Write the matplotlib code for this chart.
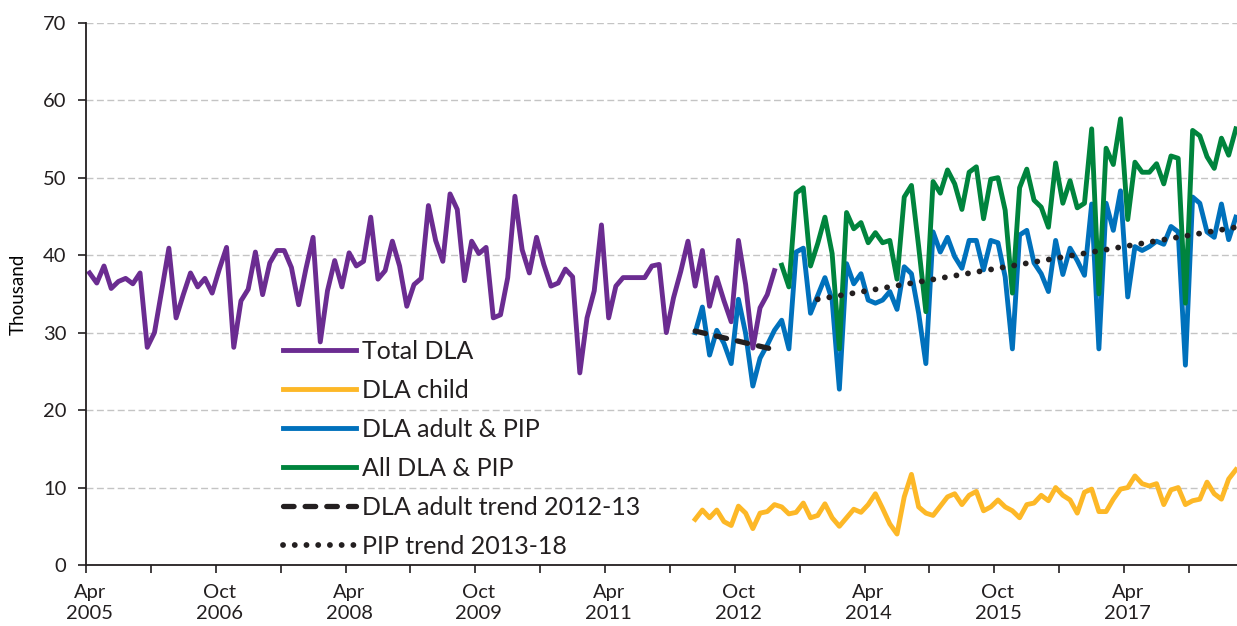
import numpy as np
import matplotlib.pyplot as plt

plt.rcParams['font.family'] = ['Lato', 'DejaVu Sans']
plt.rcParams['text.color'] = '#231F20'
plt.rcParams['axes.edgecolor'] = '#231F20'
plt.rcParams['xtick.color'] = '#231F20'
plt.rcParams['ytick.color'] = '#231F20'

# monthly series, position 0 = Apr 2005 (thousands)
dla_total = [37.7, 36.4, 38.6, 35.7, 36.6, 37.0, 36.3, 37.7, 28.1, 30.0,
             35.4, 40.9, 31.9, 34.9, 37.7, 35.9, 37.0, 35.1, 38.2, 41.0,
             28.1, 34.1, 35.6, 40.4, 34.9, 39.0, 40.6, 40.6, 38.4, 33.6,
             38.2, 42.3, 28.8, 35.4, 39.3, 35.9, 40.3, 38.6, 39.2, 44.9,
             36.9, 38.0, 41.8, 38.6, 33.4, 36.2, 37.0, 46.4, 41.9, 39.2,
             47.9, 45.9, 36.7, 41.8, 40.2, 41.0, 31.9, 32.3, 37.1, 47.6,
             40.7, 37.7, 42.3, 38.8, 36.0, 36.4, 38.2, 37.2, 24.8, 31.9,
             35.4, 43.9, 31.9, 36.0, 37.1, 37.1, 37.1, 37.1, 38.6, 38.8,
             30.0, 34.5, 37.9, 41.8, 36.0, 40.6, 33.4, 37.1, 34.1, 31.4,
             41.9, 36.2, 28.0, 33.2, 34.9, 38.0]
dla_total_start = 0

dla_child = [5.9, 7.1, 6.1, 7.1, 5.6, 5.1, 7.6, 6.7, 4.7, 6.7,
             6.9, 7.8, 7.5, 6.6, 6.8, 8.0, 6.1, 6.4, 7.9, 6.1,
             5.0, 6.1, 7.2, 6.8, 7.8, 9.2, 7.3, 5.3, 4.0, 8.8,
             11.7, 7.5, 6.7, 6.4, 7.6, 8.8, 9.2, 7.8, 9.0, 9.5,
             7.0, 7.5, 8.4, 7.5, 7.0, 6.1, 7.8, 8.0, 9.0, 8.3,
             10.0, 9.0, 8.4, 6.7, 9.4, 9.8, 6.9, 6.9, 8.5, 9.8,
             10.0, 11.5, 10.5, 10.2, 10.5, 7.8, 9.7, 10.0, 7.8, 8.3,
             8.5, 10.7, 9.2, 8.5, 11.1, 12.3]
dla_child_start = 84

dla_adult_pip = [30.0, 33.3, 27.1, 30.3, 28.6, 26.0, 34.3, 29.9, 23.1, 26.7,
                 28.4, 30.3, 31.6, 27.9, 40.4, 40.9, 32.5, 34.8, 37.1, 34.2,
                 22.7, 38.9, 36.3, 37.6, 34.2, 33.8, 34.2, 35.3, 33.0, 38.5,
                 37.6, 32.5, 26.0, 43.0, 40.4, 42.3, 39.8, 38.3, 41.9, 41.9,
                 38.1, 41.9, 41.6, 37.2, 27.9, 42.6, 43.2, 39.0, 37.6, 35.3,
                 41.9, 37.5, 40.9, 39.3, 37.4, 46.6, 27.9, 46.7, 43.2, 48.3,
                 34.6, 41.1, 40.6, 41.1, 41.8, 41.4, 43.7, 43.0, 25.8, 47.5,
                 46.7, 43.0, 42.3, 46.6, 42.0, 44.9]
dla_adult_pip_start = 84

all_dla_pip = [38.7, 35.9, 48.0, 48.7, 38.6, 41.5, 44.9, 40.2, 27.9, 45.5,
               43.4, 44.2, 41.6, 42.9, 41.6, 41.9, 36.9, 47.5, 49.0, 41.1,
               32.7, 49.5, 48.0, 51.0, 49.2, 45.9, 50.7, 51.4, 44.7, 49.8,
               50.0, 45.8, 35.1, 48.7, 51.1, 47.1, 46.2, 43.6, 51.9, 46.7,
               49.6, 46.1, 46.7, 56.3, 35.0, 53.8, 51.7, 57.6, 44.6, 52.0,
               50.7, 50.7, 51.8, 49.2, 52.8, 52.5, 33.8, 56.1, 55.4, 52.7,
               51.2, 55.1, 52.9, 56.3]
all_dla_pip_start = 96

dla_trend_x = [84, 95]
dla_trend_y = [30.2, 27.8]
pip_trend_x = [101, 159]
pip_trend_y = [34.3, 43.6]

tick_labels = ['Apr\n2005', 'Oct\n2006', 'Apr\n2008', 'Oct\n2009', 'Apr\n2011',
               'Oct\n2012', 'Apr\n2014', 'Oct\n2015', 'Apr\n2017']

fig = plt.figure(figsize=(12.37, 6.26), dpi=100)
ax = fig.add_axes([0.0695, 0.0974, 0.9325, 0.8663])

def xs(start, vals):
    return np.arange(start, start + len(vals))

lw = 3.5
ax.plot(xs(dla_total_start, dla_total), dla_total, color='#6B2C91', lw=lw,
        label='Total DLA')
ax.plot(xs(dla_child_start, dla_child), dla_child, color='#FDB827', lw=lw,
        label='DLA child')
ax.plot(xs(dla_adult_pip_start, dla_adult_pip), dla_adult_pip, color='#0071BC',
        lw=lw, label='DLA adult & PIP')
ax.plot(xs(all_dla_pip_start, all_dla_pip), all_dla_pip, color='#00843D', lw=lw,
        label='All DLA & PIP')
ax.plot(dla_trend_x, dla_trend_y, color='#231F20', lw=3.8, linestyle=(0, (2, 2.1)),
        dash_capstyle='round', label='DLA adult trend 2012-13')
ax.plot(pip_trend_x, pip_trend_y, color='#231F20', lw=4.2, linestyle=(0, (0.01, 2.0)),
        dash_capstyle='round', label='PIP trend 2013-18')

ax.set_xlim(-0.5, 159.5)
ax.set_ylim(0, 70)
ax.set_yticks(np.arange(0, 71, 10))
ax.tick_params(axis='y', labelsize=14.5, length=6, width=1.2, pad=8)
ax.set_ylabel('Thousand', fontsize=13.5, labelpad=12)

ax.set_xticks(np.arange(-0.5, 160, 9))
ax.set_xticklabels([])
ax.set_xticks(np.arange(0, 160, 18)[:len(tick_labels)], minor=True)
ax.set_xticklabels(tick_labels, minor=True, fontsize=14.5, linespacing=1.25)
ax.tick_params(axis='x', which='major', length=6, width=1.2)
ax.tick_params(axis='x', which='minor', length=0, pad=14)

ax.grid(axis='y', color='#C4C4C4', linestyle=(0, (5, 2.5)), lw=1.0)
ax.set_axisbelow(True)
for s in ['top', 'right']:
    ax.spines[s].set_visible(False)
for s in ['left', 'bottom']:
    ax.spines[s].set_linewidth(1.3)

ax.legend(loc='upper left', bbox_to_anchor=(0.171, 0.415), frameon=False,
          fontsize=18, handlelength=2.9, handletextpad=0.25, labelspacing=0.64,
          borderpad=0, borderaxespad=0)

fig.savefig('out.png', dpi=100)
